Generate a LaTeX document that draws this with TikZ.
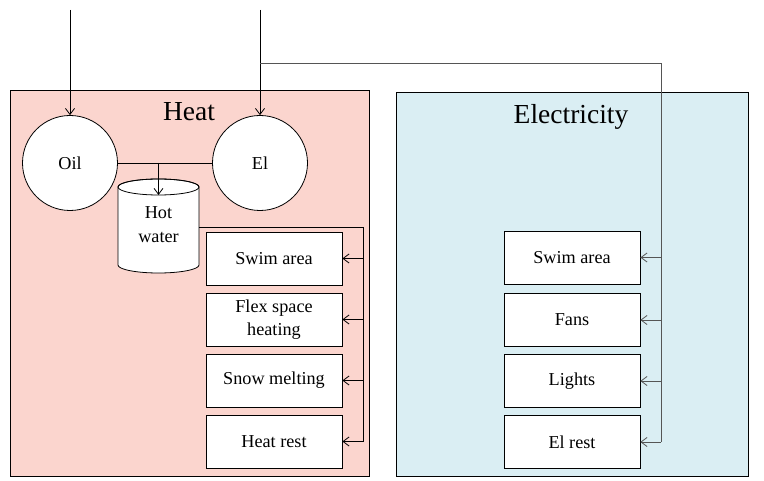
\documentclass[tikz,border=0pt]{standalone}
\usepackage{fontspec}
\setmainfont{Liberation Serif}
\usetikzlibrary{arrows.meta}
\definecolor{heatbg}{RGB}{251,213,206}
\definecolor{elbg}{RGB}{218,238,243}
\definecolor{elline}{RGB}{85,85,85}
\tikzset{
  panel/.style={draw=black, line width=0.8pt},
  load/.style={draw=black, fill=white, line width=0.8pt, minimum width=136, minimum height=53, inner sep=0pt, align=center, font=\fontsize{18.2}{23}\selectfont},
  src/.style={draw=black, fill=white, circle, line width=0.8pt, minimum size=95, inner sep=0pt, font=\fontsize{18.2}{23}\selectfont},
  title/.style={font=\fontsize{27.5}{32}\selectfont, anchor=base},
  conn/.style={line width=0.8pt},
  arr/.style={conn, -{Straight Barb[length=6pt,width=9pt]}},
}
\begin{document}
\begin{tikzpicture}[x=1pt,y=1pt]
\useasboundingbox (0,0) rectangle (764,-481);
\fill[white] (0,0) rectangle (764,-481);
% panels
\draw[panel, fill=heatbg] (10,-90) rectangle (369,-476);
\draw[panel, fill=elbg] (396,-92) rectangle (748,-476);
\node[title] (heatt) at (189,-121) {Heat};
\node[title] (elt) at (571,-124) {Electricity};
% sources
\node[src] (oil) at (70,-163) {Oil};
\node[src] (el) at (260,-163) {El};
% hot water tank
\fill[white, draw=black, line width=0.8pt] (118,-187) -- (118,-265) arc (180:360:40.5 and 8) -- (199,-187) arc (0:180:40.5 and 8) -- cycle;
\draw[line width=0.8pt] (158.5,-187) ellipse (40.5 and 8);
\node[align=center, inner sep=0pt, font=\fontsize{18.2}{24}\selectfont] (hw) at (158.5,-225) {Hot\\water};
\coordinate (hwtop) at (158.5,-195);
\coordinate (hwright) at (199,-227);
% heat loads
\node[load] (h1) at (274,-258.5) {Swim area};
\node[load] (h2) at (274,-319.5) {Flex space\\heating};
\node[load] (h3) at (274,-380.5) {Snow melting};
\node[load] (h4) at (274,-441.5) {Heat rest};
% electricity loads
\node[load] (e1) at (572,-257.5) {Swim area};
\node[load] (e2) at (572,-320) {Fans};
\node[load] (e3) at (572,-381) {Lights};
\node[load] (e4) at (572,-442) {El rest};
% inputs
\coordinate (oilin) at (70,-10);
\coordinate (elin) at (260,-10);
\coordinate (br) at (260,-63);
\draw[arr] (oilin) -- (oil);
\draw[arr] (elin) -- (el);
% oil/el to tank
\draw[conn] (oil.east) -- (el.west);
\draw[arr] (hwtop |- oil.east) -- (hwtop);
% heat bus
\coordinate (hbus) at (363,-227);
\draw[conn] (hwright) -- (hbus) -- (hbus |- h4.east);
\draw[arr] (hbus |- h1.east) -- (h1.east);
\draw[arr] (hbus |- h2.east) -- (h2.east);
\draw[arr] (hbus |- h3.east) -- (h3.east);
\draw[arr] (hbus |- h4.east) -- (h4.east);
% electricity bus
\coordinate (ebus) at (661,-63);
\draw[conn, draw=elline] (br) -- (ebus) -- (ebus |- e4.east);
\draw[arr, draw=elline] (ebus |- e1.east) -- (e1.east);
\draw[arr, draw=elline] (ebus |- e2.east) -- (e2.east);
\draw[arr, draw=elline] (ebus |- e3.east) -- (e3.east);
\draw[arr, draw=elline] (ebus |- e4.east) -- (e4.east);
\end{tikzpicture}
\end{document}
